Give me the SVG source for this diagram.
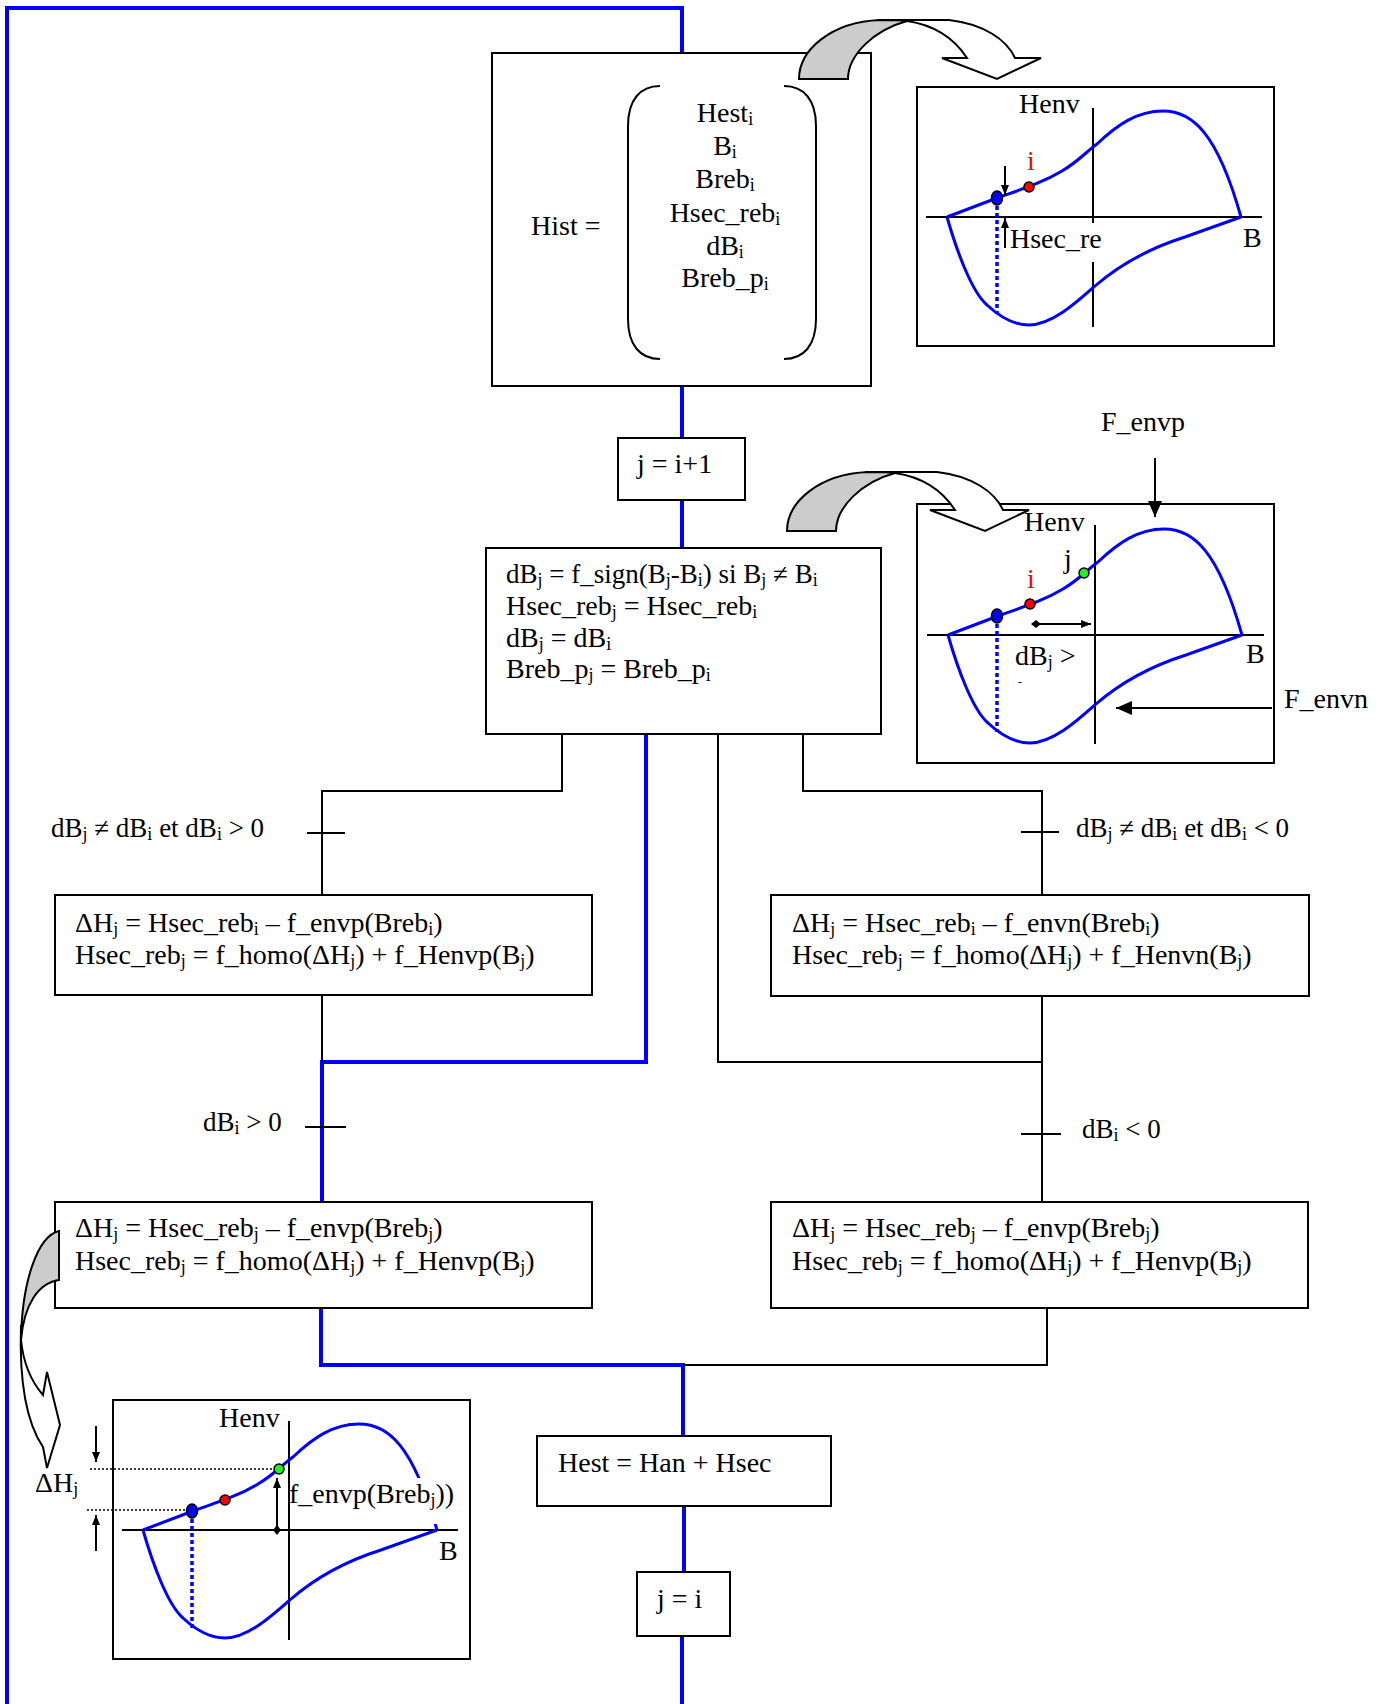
<svg xmlns="http://www.w3.org/2000/svg" xmlns:xlink="http://www.w3.org/1999/xlink" width="1387" height="1704" viewBox="0 0 1387 1704">
<style>
.t{font-family:"Liberation Serif","Times New Roman",serif;font-size:28px;fill:#000}
.c{font-size:27px}
.s{font-size:18px}
.red{fill:#ff0000}
.box{fill:#fff;stroke:#000;stroke-width:2}
.blue{fill:none;stroke:#0000ff;stroke-width:4}
.blk{fill:none;stroke:#000;stroke-width:2}
.crv{fill:none;stroke:#0000ff;stroke-width:3}
.bdot{fill:none;stroke:#0000ff;stroke-width:3.5;stroke-dasharray:4 3}
.kdot{fill:none;stroke:#000;stroke-width:1.5;stroke-dasharray:2 2}
.ax{fill:none;stroke:#000;stroke-width:2}
.arw{fill:none;stroke:#000;stroke-width:2}
.white{fill:#fff;stroke:#000;stroke-width:2;stroke-linejoin:miter}
.gray{fill:#ccc;stroke:#000;stroke-width:2}
.pb{fill:#0000ff;stroke:#000;stroke-width:1.5}
.pr{fill:#ff0000;stroke:#000;stroke-width:1.5}
.pg{fill:#22ee22;stroke:#000;stroke-width:1.5}
</style>
<defs>
<marker id="ah" viewBox="0 0 10 8" refX="10" refY="4" markerWidth="10" markerHeight="8" markerUnits="userSpaceOnUse" orient="auto"><path d="M0,0 L10,4 L0,8 Z" fill="#000"/></marker>
<marker id="ahb" viewBox="0 0 16 14" refX="16" refY="7" markerWidth="16" markerHeight="14" markerUnits="userSpaceOnUse" orient="auto"><path d="M0,0 L16,7 L0,14 Z" fill="#000"/></marker>
<marker id="dia" viewBox="0 0 10 10" refX="5" refY="5" markerWidth="10" markerHeight="10" markerUnits="userSpaceOnUse" orient="auto"><path d="M0,5 L5,1 L10,5 L5,9 Z" fill="#000"/></marker>
<path id="hyst" class="crv" d="M30,130 L80,111 C105,102 125,96 145,84 C162,74 170,64 180,57 C200,38 220,24 246,24 C275,24 300,45 324,130 M30,130 C40,165 55,205 70,218 C85,232 100,238 112,238 C135,238 160,215 178,199 C200,180 230,162 268,150 L324,130"/>
<g id="carrow">
<path class="white" d="M78,0 L150,0 C185,4 208,20 216,38 L242,38 L198,59 L143,38 L168,38 C155,18 135,5 108,1 Z"/>
<path class="gray" d="M0,59 C0,30 32,2 81,0 C95,0 102,0 108,1 C75,10 49,35 49,59 Z"/>
</g>
</defs>

<g id="connectors">
<path class="blue" d="M7,1704 L7,8 L682,8 L682,53"/>
<path class="blue" d="M682,386 L682,438"/>
<path class="blue" d="M682,500 L682,548"/>
<path class="blue" d="M646,734 L646,1062 L322,1062 L322,1202"/>
<path class="blue" d="M321,1308 L321,1365 L683,1365 L683,1436"/>
<path class="blue" d="M684,1506 L684,1572"/>
<path class="blue" d="M682,1636 L682,1704"/>
<path class="blk" d="M562,734 L562,791 L322,791 L322,895"/>
<path class="blk" d="M307,833 L345,833"/>
<path class="blk" d="M803,734 L803,791 L1042,791 L1042,895"/>
<path class="blk" d="M1021,832 L1059,832"/>
<path class="blk" d="M718,734 L718,1062 L1042,1062"/>
<path class="blk" d="M1042,996 L1042,1202"/>
<path class="blk" d="M1021,1134 L1061,1134"/>
<path class="blk" d="M322,995 L322,1062"/>
<path class="blk" d="M305,1127 L346,1127"/>
<path class="blk" d="M1047,1308 L1047,1365 L683,1365"/>
</g>

<g id="node-hist">
<rect class="box" x="492" y="53" width="379" height="333"/>
<text class="t" x="531" y="235">Hist =</text>
<path class="blk" d="M660,86 C640,86 628,100 628,126 L628,319 C628,345 640,359 660,359"/>
<path class="blk" d="M784,86 C804,86 816,100 816,126 L816,319 C816,345 804,359 784,359"/>
<text class="t" text-anchor="middle" x="725" y="122">Hest<tspan class="s" dy="3">i</tspan></text>
<text class="t" text-anchor="middle" x="725" y="155">B<tspan class="s" dy="3">i</tspan></text>
<text class="t" text-anchor="middle" x="725" y="188">Breb<tspan class="s" dy="3">i</tspan></text>
<text class="t" text-anchor="middle" x="725" y="222">Hsec_reb<tspan class="s" dy="3">i</tspan></text>
<text class="t" text-anchor="middle" x="725" y="255">dB<tspan class="s" dy="3">i</tspan></text>
<text class="t" text-anchor="middle" x="725" y="287">Breb_p<tspan class="s" dy="3">i</tspan></text>
</g>
<use href="#carrow" x="799" y="20"/>

<g id="graph-1">
<rect class="box" x="917" y="87" width="357" height="259"/>
<path class="ax" d="M926,217 L1262,217 M1093,108 L1093,223 M1093,262 L1093,327"/>
<use href="#hyst" x="917" y="87"/>
<path class="bdot" d="M997,199 L997,313"/>
<ellipse class="pb" cx="997" cy="198" rx="5.5" ry="7"/>
<circle class="pr" cx="1029" cy="187" r="5"/>
<path class="arw" d="M1005,166 L1005,195" marker-end="url(#ah)"/>
<path class="arw" d="M1005,248 L1005,218" marker-end="url(#ah)"/>
<text class="t" x="1019" y="113">Henv</text>
<text class="t red" x="1027" y="170">i</text>
<text class="t" x="1010" y="248">Hsec_re</text>
<text class="t" x="1243" y="247">B</text>
</g>

<g id="node-j-i1">
<rect class="box" x="618" y="438" width="127" height="62"/>
<text class="t" x="637" y="473">j = i+1</text>
</g>

<g id="node-main">
<rect class="box" x="486" y="548" width="395" height="186"/>
<text class="t c" x="506" y="583">dB<tspan class="s" dy="3">j</tspan><tspan dy="-3"> = f_sign(B</tspan><tspan class="s" dy="3">j</tspan><tspan dy="-3">-B</tspan><tspan class="s" dy="3">i</tspan><tspan dy="-3">) si B</tspan><tspan class="s" dy="3">j</tspan><tspan dy="-3"> ≠ B</tspan><tspan class="s" dy="3">i</tspan></text>
<text class="t" x="506" y="615">Hsec_reb<tspan class="s" dy="3">j</tspan><tspan dy="-3"> = Hsec_reb</tspan><tspan class="s" dy="3">i</tspan></text>
<text class="t" x="506" y="647">dB<tspan class="s" dy="3">j</tspan><tspan dy="-3"> = dB</tspan><tspan class="s" dy="3">i</tspan></text>
<text class="t" x="506" y="678">Breb_p<tspan class="s" dy="3">j</tspan><tspan dy="-3"> = Breb_p</tspan><tspan class="s" dy="3">i</tspan></text>
</g>

<g id="graph-2">
<rect class="box" x="917" y="504" width="357" height="259"/>
<path class="ax" d="M927,635 L1264,635 M1095,525 L1095,744"/>
<use href="#hyst" x="918" y="505"/>
<path class="bdot" d="M997,617 L997,732"/>
<ellipse class="pb" cx="997" cy="616" rx="5.5" ry="7"/>
<circle class="pr" cx="1030" cy="604" r="5"/>
<circle class="pg" cx="1084" cy="573" r="5"/>
<path class="arw" d="M1036,624 L1091,624" marker-start="url(#dia)" marker-end="url(#ah)"/>
<text class="t" x="1024" y="531">Henv</text>
<text class="t red" x="1027" y="588">i</text>
<text class="t" x="1064" y="568">j</text>
<text class="t" x="1015" y="665">dB<tspan class="s" dy="3">j</tspan><tspan dy="-3"> &gt;</tspan></text>
<text class="t" style="font-size:12px" x="1018" y="686">-</text>
<text class="t" x="1246" y="663">B</text>
<text class="t" x="1101" y="431">F_envp</text>
<path class="arw" d="M1155,458 L1155,517" marker-end="url(#ahb)"/>
<text class="t" x="1284" y="708">F_envn</text>
<path class="arw" d="M1272,708 L1116,708" marker-end="url(#ahb)"/>
</g>
<use href="#carrow" x="787" y="472"/>

<g id="node-left1">
<rect class="box" x="55" y="895" width="537" height="100"/>
<text class="t" x="75" y="932">ΔH<tspan class="s" dy="3">j</tspan><tspan dy="-3"> = Hsec_reb</tspan><tspan class="s" dy="3">i</tspan><tspan dy="-3"> – f_envp(Breb</tspan><tspan class="s" dy="3">i</tspan><tspan dy="-3">)</tspan></text>
<text class="t" x="75" y="964">Hsec_reb<tspan class="s" dy="3">j</tspan><tspan dy="-3"> = f_homo(ΔH</tspan><tspan class="s" dy="3">j</tspan><tspan dy="-3">) + f_Henvp(B</tspan><tspan class="s" dy="3">j</tspan><tspan dy="-3">)</tspan></text>
</g>
<g id="node-right1">
<rect class="box" x="771" y="895" width="538" height="101"/>
<text class="t" x="792" y="932">ΔH<tspan class="s" dy="3">j</tspan><tspan dy="-3"> = Hsec_reb</tspan><tspan class="s" dy="3">i</tspan><tspan dy="-3"> – f_envn(Breb</tspan><tspan class="s" dy="3">i</tspan><tspan dy="-3">)</tspan></text>
<text class="t" x="792" y="964">Hsec_reb<tspan class="s" dy="3">j</tspan><tspan dy="-3"> = f_homo(ΔH</tspan><tspan class="s" dy="3">j</tspan><tspan dy="-3">) + f_Henvn(B</tspan><tspan class="s" dy="3">j</tspan><tspan dy="-3">)</tspan></text>
</g>

<g id="labels">
<text class="t c" x="51" y="837">dB<tspan class="s" dy="3">j</tspan><tspan dy="-3"> ≠ dB</tspan><tspan class="s" dy="3">i</tspan><tspan dy="-3"> et dB</tspan><tspan class="s" dy="3">i</tspan><tspan dy="-3"> &gt; 0</tspan></text>
<text class="t c" x="1076" y="837">dB<tspan class="s" dy="3">j</tspan><tspan dy="-3"> ≠ dB</tspan><tspan class="s" dy="3">i</tspan><tspan dy="-3"> et dB</tspan><tspan class="s" dy="3">i</tspan><tspan dy="-3"> &lt; 0</tspan></text>
<text class="t c" x="203" y="1131">dB<tspan class="s" dy="3">i</tspan><tspan dy="-3"> &gt; 0</tspan></text>
<text class="t c" x="1082" y="1138">dB<tspan class="s" dy="3">i</tspan><tspan dy="-3"> &lt; 0</tspan></text>
</g>

<g id="node-left2">
<rect class="box" x="55" y="1202" width="537" height="106"/>
<text class="t" x="75" y="1237">ΔH<tspan class="s" dy="3">j</tspan><tspan dy="-3"> = Hsec_reb</tspan><tspan class="s" dy="3">j</tspan><tspan dy="-3"> – f_envp(Breb</tspan><tspan class="s" dy="3">j</tspan><tspan dy="-3">)</tspan></text>
<text class="t" x="75" y="1270">Hsec_reb<tspan class="s" dy="3">j</tspan><tspan dy="-3"> = f_homo(ΔH</tspan><tspan class="s" dy="3">j</tspan><tspan dy="-3">) + f_Henvp(B</tspan><tspan class="s" dy="3">j</tspan><tspan dy="-3">)</tspan></text>
</g>
<g id="node-right2">
<rect class="box" x="771" y="1202" width="537" height="106"/>
<text class="t" x="792" y="1237">ΔH<tspan class="s" dy="3">j</tspan><tspan dy="-3"> = Hsec_reb</tspan><tspan class="s" dy="3">j</tspan><tspan dy="-3"> – f_envp(Breb</tspan><tspan class="s" dy="3">j</tspan><tspan dy="-3">)</tspan></text>
<text class="t" x="792" y="1270">Hsec_reb<tspan class="s" dy="3">j</tspan><tspan dy="-3"> = f_homo(ΔH</tspan><tspan class="s" dy="3">j</tspan><tspan dy="-3">) + f_Henvp(B</tspan><tspan class="s" dy="3">j</tspan><tspan dy="-3">)</tspan></text>
</g>

<g id="left-arrow">
<path class="white" d="M21,1325 C19,1385 28,1425 43,1447 L47,1468 L60,1425 L47,1372 L43,1395 C30,1380 23,1360 21,1340 Z"/>
<path class="gray" d="M59,1231 C38,1236 22,1280 21,1340 C24,1305 38,1283 59,1280 Z"/>
</g>

<g id="graph-3">
<rect class="box" x="113" y="1400" width="357" height="259"/>
<path class="ax" d="M122,1530 L458,1530 M289,1421 L289,1640"/>
<use href="#hyst" x="113" y="1400"/>
<rect x="291" y="1478" width="167" height="46" fill="#fff"/>
<path class="bdot" d="M192,1512 L192,1628"/>
<path class="kdot" d="M90,1469 L278,1469 M87,1510 L190,1510"/>
<ellipse class="pb" cx="192" cy="1511" rx="5.5" ry="7"/>
<circle class="pr" cx="225" cy="1500" r="5"/>
<circle class="pg" cx="279" cy="1469" r="5"/>
<path class="arw" d="M96,1426 L96,1462" marker-end="url(#ah)"/>
<path class="arw" d="M96,1551 L96,1515" marker-end="url(#ah)"/>
<path class="arw" d="M277,1530 L277,1478" marker-start="url(#dia)" marker-end="url(#ah)"/>
<text class="t" x="219" y="1427">Henv</text>
<text class="t" x="289" y="1503">f_envp(Breb<tspan class="s" dy="3">j</tspan><tspan dy="-3">))</tspan></text>
<text class="t" x="439" y="1560">B</text>
<text class="t" x="35" y="1492">ΔH<tspan class="s" dy="3">j</tspan></text>
</g>

<g id="node-hest">
<rect class="box" x="537" y="1436" width="294" height="70"/>
<text class="t" x="558" y="1472">Hest = Han + Hsec</text>
</g>
<g id="node-j-i">
<rect class="box" x="637" y="1572" width="93" height="64"/>
<text class="t" x="657" y="1608">j = i</text>
</g>
</svg>
